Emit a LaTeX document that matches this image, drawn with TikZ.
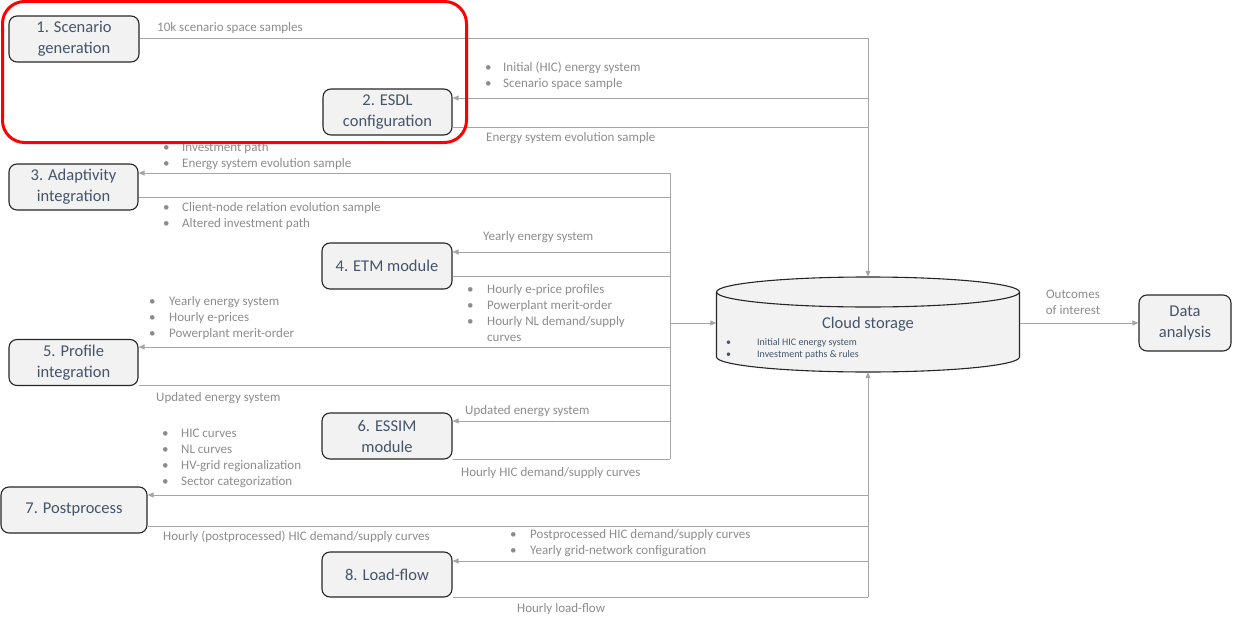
\documentclass[tikz,border=0pt]{standalone}
\usepackage{fontspec}
\setmainfont{Carlito}
\usetikzlibrary{arrows.meta,calc}
\definecolor{ntext}{HTML}{44546A}
\definecolor{ltext}{HTML}{8C8C8C}
\definecolor{wirec}{HTML}{A6A6A6}
\definecolor{boxfill}{HTML}{F2F2F2}
\definecolor{boxline}{HTML}{262626}
\newcommand\mybul[1][19pt]{\makebox[#1][l]{•}}
\begin{document}
\begin{tikzpicture}[x=1pt,y=1pt,
  stepbox/.style={draw=boxline, line width=1.1pt, fill=boxfill, rounded corners=8pt,
    text=ntext, font=\fontsize{16.5}{21}\selectfont, align=center, inner sep=0pt},
  lbl/.style={text=ltext, font=\fontsize{13}{16}\selectfont, align=left, inner sep=0pt, anchor=west, yshift=-1.5pt},
  wire/.style={draw=wirec, line width=1pt},
  arr/.style={wire, -{Triangle[length=6pt,width=5pt]}}]
\useasboundingbox (0,0) rectangle (1240,-634);

% process nodes
\node[stepbox, minimum width=130pt, minimum height=46pt] (n1) at (74,-39) {1. Scenario\\generation};
\node[stepbox, minimum width=129pt, minimum height=46pt] (n2) at (387.5,-112) {2. ESDL\\configuration};
\node[stepbox, minimum width=129pt, minimum height=46pt] (n3) at (73.5,-187) {3. Adaptivity\\integration};
\node[stepbox, minimum width=130pt, minimum height=46pt] (n4) at (387,-266) {4. ETM module};
\node[stepbox, minimum width=129pt, minimum height=46pt] (n5) at (73.5,-362.5) {5. Profile\\integration};
\node[stepbox, minimum width=130pt, minimum height=46pt] (n6) at (387,-436) {6. ESSIM\\module};
\node[stepbox, minimum width=146pt, minimum height=46pt] (n7) at (74,-510) {7. Postprocess};
\node[stepbox, minimum width=130pt, minimum height=45pt] (n8) at (387,-574.5) {8. Load-flow};
\node[stepbox, minimum width=92pt, minimum height=56pt] (da) at (1185,-323) {Data\\analysis};

% cloud storage cylinder
\node[minimum width=303pt, minimum height=95pt, inner sep=0pt] (cyl) at (868,-324.5) {};
\fill[boxfill] (716.5,-292) -- (716.5,-357) arc[start angle=180,end angle=360,x radius=151.5,y radius=15]
  -- (1019.5,-292) arc[start angle=0,end angle=180,x radius=151.5,y radius=15] -- cycle;
\draw[boxline, line width=1.1pt] (716.5,-292) -- (716.5,-357) arc[start angle=180,end angle=360,x radius=151.5,y radius=15]
  -- (1019.5,-292);
\draw[boxline, line width=1.1pt] (868,-292) ellipse[x radius=151.5,y radius=15];
\node[text=ntext, font=\fontsize{16.5}{21}\selectfont, inner sep=0pt] (cylt) at (868,-324.5) {Cloud storage};
\node[text=ntext, font=\fontsize{10}{12}\selectfont, align=left, inner sep=0pt, anchor=west] (cyll) at (726,-348.5)
  {\mybul[31pt]Initial HIC energy system\\\mybul[31pt]Investment paths \& rules};

% bus coordinates
\coordinate (t2in) at (868,-98);
\coordinate (t2out) at (868,-127);
\coordinate (m3in) at (670,-173);
\coordinate (m3out) at (670,-197);
\coordinate (m4in) at (670,-252);
\coordinate (m4out) at (670,-276);
\coordinate (mc) at (670,-323);
\coordinate (m5in) at (670,-347);
\coordinate (m5out) at (670,-385);
\coordinate (m6in) at (670,-421);
\coordinate (m6out) at (670,-459);
\coordinate (b7in) at (868,-495);
\coordinate (b7out) at (868,-526);
\coordinate (b8in) at (868,-561);
\coordinate (b8out) at (868,-597);

% top part
\draw[arr] (n1.east) -- (n1.east -| cyl.north) -- (cyl.north);
\draw[arr] (t2in) -- (t2in -| n2.east);
\draw[wire] (n2.east |- t2out) -- (t2out);

% middle bus
\draw[wire] (m3in) -- (m6out);
\draw[arr] (mc) -- (mc -| cyl.west);
\draw[arr] (m3in) -- (m3in -| n3.east);
\draw[wire] (n3.east |- m3out) -- (m3out);
\draw[arr] (m4in) -- (m4in -| n4.east);
\draw[wire] (n4.east |- m4out) -- (m4out);
\draw[arr] (m5in) -- (m5in -| n5.east);
\draw[wire] (n5.east |- m5out) -- (m5out);
\draw[arr] (m6in) -- (m6in -| n6.east);
\draw[wire] (n6.east |- m6out) -- (m6out);

% lower bus
\draw[arr] (b8out) -- (cyl.south);
\draw[arr] (b7in) -- (b7in -| n7.east);
\draw[wire] (n7.east |- b7out) -- (b7out);
\draw[arr] (b8in) -- (b8in -| n8.east);
\draw[wire] (n8.east |- b8out) -- (b8out);

% to data analysis
\draw[arr] (cyl.east |- da.west) -- (da.west);

% labels
\node[lbl] (l1) at (157,-27) {10k scenario space samples};
\node[lbl] (l2) at (485,-74) {\mybul[18pt]Initial (HIC) energy system\\\mybul[18pt]Scenario space sample};
\node[lbl] (l3) at (486,-137) {Energy system evolution sample};
\node[lbl] (l4) at (163,-155) {\mybul Investment path\\\mybul Energy system evolution sample};
\node[lbl] (l5) at (163,-215) {\mybul Client-node relation evolution sample\\\mybul Altered investment path};
\node[lbl] (l6) at (483,-236) {Yearly energy system};
\node[lbl] (l7) at (467,-312) {\mybul[20pt]Hourly e-price profiles\\\mybul[20pt]Powerplant merit-order\\\mybul[20pt]Hourly NL demand/supply\\\hspace*{20pt}curves};
\node[lbl] (l8) at (149,-316.5) {\mybul[20pt]Yearly energy system\\\mybul[20pt]Hourly e-prices\\\mybul[20pt]Powerplant merit-order};
\node[lbl] (l9) at (156,-397) {Updated energy system};
\node[lbl] (l10) at (465,-410) {Updated energy system};
\node[lbl] (l11) at (461,-472) {Hourly HIC demand/supply curves};
\node[lbl] (l12) at (162,-457) {\mybul HIC curves\\\mybul NL curves\\\mybul HV-grid regionalization\\\mybul Sector categorization};
\node[lbl] (l13) at (163,-535) {Hourly (postprocessed) HIC demand/supply curves};
\node[lbl] (l14) at (510,-542) {\mybul[20pt]Postprocessed HIC demand/supply curves\\\mybul[20pt]Yearly grid-network configuration};
\node[lbl] (l15) at (517,-608) {Hourly load-flow};
\node[lbl, anchor=center, align=center] (l16) at (1073,-300.5) {Outcomes\\of interest};

% highlight frame
\draw[red, line width=3pt, rounded corners=22pt] (2.5,-1.5) rectangle (466.5,-142.5);
\end{tikzpicture}
\end{document}
